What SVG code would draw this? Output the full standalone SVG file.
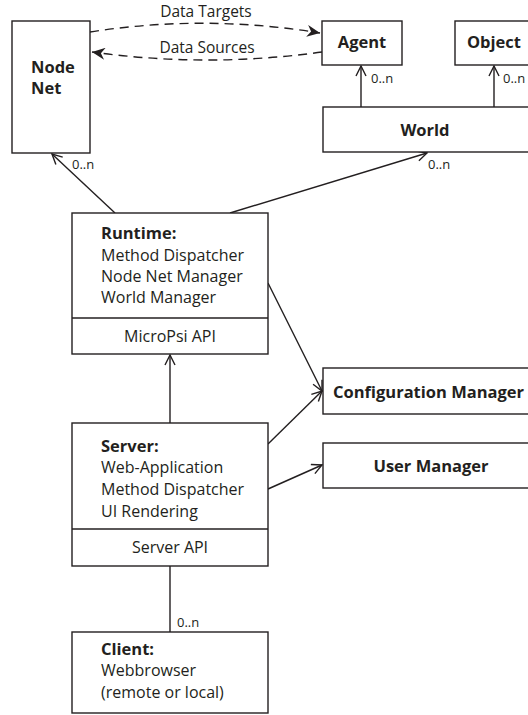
<svg xmlns="http://www.w3.org/2000/svg" width="528" height="715" viewBox="0 0 528 715">
  <defs>
    <style>
      .box { fill: #ffffff; stroke: #231f20; stroke-width: 1.4; }
      .edge { fill: none; stroke: #231f20; stroke-width: 1.4; }
      .dash { fill: none; stroke: #231f20; stroke-width: 1.4; stroke-dasharray: 9 6; }
      text { font-family: "Open Sans", "Liberation Sans", sans-serif; fill: #231f20; }
      .t { font-size: 16px; }
      .b { font-size: 16.5px; font-weight: bold; }
      .s { font-size: 13px; }
      .lbl { font-size: 15.5px; }
      .c { text-anchor: middle; }
    </style>
    <marker id="open" viewBox="0 0 12 12" refX="11" refY="6" markerWidth="12" markerHeight="12" markerUnits="userSpaceOnUse" orient="auto">
      <path d="M1,1 L11,6 L1,11" fill="none" stroke="#231f20" stroke-width="1.4"/>
    </marker>
    <marker id="solid" viewBox="0 0 14 12" refX="13" refY="6" markerWidth="14" markerHeight="12" markerUnits="userSpaceOnUse" orient="auto">
      <path d="M0,0 L13,6 L0,12 L4,6 Z" fill="#231f20"/>
    </marker>
  </defs>

  <!-- connectors -->
  <g id="connectors">
    <path class="dash" d="M90,32 Q205,14 320,33" marker-end="url(#solid)"/>
    <path class="dash" d="M322,52 Q207,68 92,52" marker-end="url(#solid)"/>
    <line class="edge" x1="361" y1="107" x2="361" y2="66" marker-end="url(#open)"/>
    <line class="edge" x1="494" y1="107" x2="494" y2="66" marker-end="url(#open)"/>
    <line class="edge" x1="115" y1="213" x2="52" y2="154" marker-end="url(#open)"/>
    <line class="edge" x1="230" y1="213" x2="427" y2="153" marker-end="url(#open)"/>
    <line class="edge" x1="170" y1="423" x2="170" y2="355" marker-end="url(#open)"/>
    <line class="edge" x1="268" y1="283" x2="322" y2="391" marker-end="url(#open)"/>
    <line class="edge" x1="268" y1="444" x2="322" y2="391" marker-end="url(#open)"/>
    <line class="edge" x1="268" y1="489" x2="322" y2="465" marker-end="url(#open)"/>
    <line class="edge" x1="170" y1="566" x2="170" y2="632"/>
    <text class="lbl c" x="206" y="17">Data Targets</text>
    <text class="lbl c" x="207" y="53">Data Sources</text>
    <text class="s" x="371" y="83">0..n</text>
    <text class="s" x="503" y="83">0..n</text>
    <text class="s" x="72" y="169">0..n</text>
    <text class="s" x="428" y="169">0..n</text>
    <text class="s" x="177" y="627">0..n</text>
  </g>

  <g id="node-net">
    <rect class="box" x="12" y="21" width="78" height="132"/>
    <text class="b" x="31" y="73">Node</text>
    <text class="b" x="31" y="94">Net</text>
  </g>

  <g id="agent">
    <rect class="box" x="322" y="21" width="80" height="44"/>
    <text class="b c" x="362" y="48">Agent</text>
  </g>

  <g id="object">
    <rect class="box" x="455" y="21" width="80" height="44"/>
    <text class="b c" x="494" y="48">Object</text>
  </g>

  <g id="world">
    <rect class="box" x="323" y="107" width="212" height="45"/>
    <text class="b c" x="425" y="136">World</text>
  </g>

  <g id="runtime">
    <rect class="box" x="72" y="213" width="196" height="141"/>
    <line class="edge" x1="72" y1="318" x2="268" y2="318"/>
    <text class="b" x="101" y="239">Runtime:</text>
    <text class="t" x="101" y="261">Method Dispatcher</text>
    <text class="t" x="101" y="282">Node Net Manager</text>
    <text class="t" x="101" y="303">World Manager</text>
    <text class="t c" x="170" y="342">MicroPsi API</text>
  </g>

  <g id="configuration-manager">
    <rect class="box" x="323" y="368" width="212" height="46"/>
    <text class="b" x="333" y="398">Configuration Manager</text>
  </g>

  <g id="user-manager">
    <rect class="box" x="323" y="443" width="212" height="45"/>
    <text class="b c" x="431" y="472">User Manager</text>
  </g>

  <g id="server">
    <rect class="box" x="72" y="423" width="196" height="143"/>
    <line class="edge" x1="72" y1="529" x2="268" y2="529"/>
    <text class="b" x="101" y="452">Server:</text>
    <text class="t" x="101" y="473">Web-Application</text>
    <text class="t" x="101" y="495">Method Dispatcher</text>
    <text class="t" x="101" y="517">UI Rendering</text>
    <text class="t c" x="170" y="553">Server API</text>
  </g>

  <g id="client">
    <rect class="box" x="72" y="632" width="196" height="81"/>
    <text class="b" x="101" y="655">Client:</text>
    <text class="t" x="101" y="676">Webbrowser</text>
    <text class="t" x="101" y="698">(remote or local)</text>
  </g>
</svg>
